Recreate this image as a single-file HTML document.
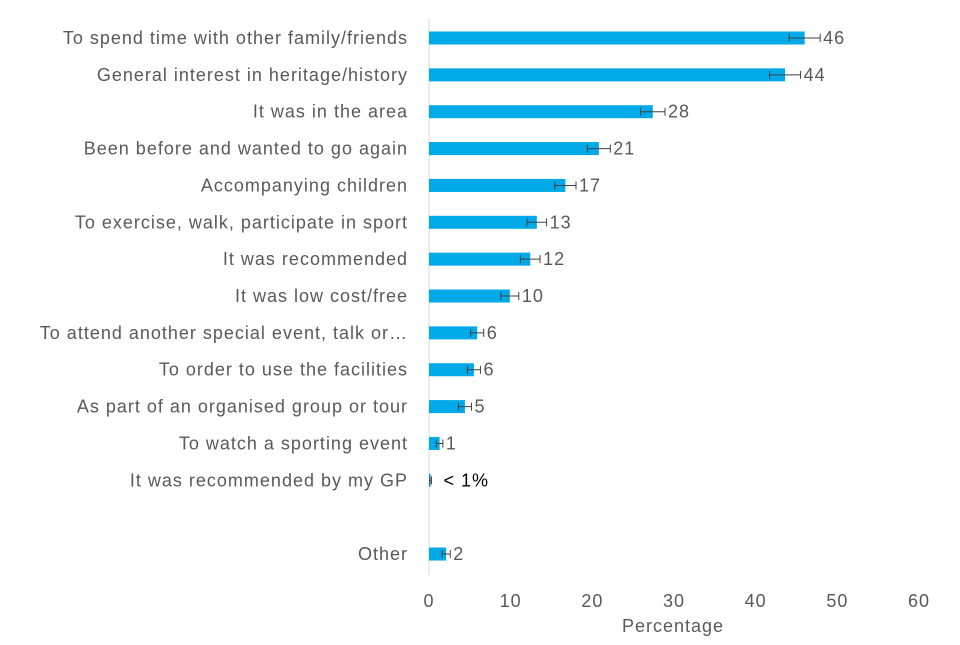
<!DOCTYPE html>
<html><head><meta charset="utf-8"><style>
body{margin:0;background:#fff}
svg text{font-family:"Liberation Sans",Arial,sans-serif;fill:#595959;letter-spacing:1px}
</style></head><body>
<svg id="chart" width="960" height="640"></svg>
<script>
const categories=["To spend time with other family/friends","General interest in heritage/history","It was in the area","Been before and wanted to go again","Accompanying children","To exercise, walk, participate in sport","It was recommended","It was low cost/free","To attend another special event, talk or…","To order to use the facilities","As part of an organised group or tour","To watch a sporting event","It was recommended by my GP","","Other"];
const values=[46,43.6,27.4,20.8,16.7,13.2,12.4,9.9,5.9,5.5,4.4,1.3,0.2,null,2.1];
const errors=[1.9,1.9,1.5,1.4,1.3,1.2,1.2,1.1,0.8,0.8,0.8,0.4,0.1,null,0.5];
const valueLabels=["46","44","28","21","17","13","12","10","6","6","5","1","< 1%","","2"];
const xTicks=[0,10,20,30,40,50,60];
const NS="http://www.w3.org/2000/svg";
const svg=document.getElementById('chart');
const x0=429,x1=919,xMax=60;
const xs=v=>x0+v/xMax*(x1-x0);
const ys=i=>38+i*36.86;
function mk(t,a,txt){const e=document.createElementNS(NS,t);for(const k in a)e.setAttribute(k,a[k]);if(txt!==undefined)e.textContent=txt;svg.appendChild(e);return e;}
const ax=mk('line',{x1:x0,x2:x0,y1:18,y2:575,stroke:'#d9d9d9','stroke-width':1});


categories.forEach((c,i)=>{
  const y=ys(i);
  if(c){const t=mk('text',{x:408,y:y+6,'text-anchor':'end','font-size':18},c);
  
  }
  const v=values[i];if(v===null)return;
  const b=mk('rect',{x:x0,y:y-6.5,width:xs(v)-x0,height:13,fill:'#00a9e8'});
  
  
  const e=errors[i],l=xs(v-e),r=xs(v+e);
  const eb=mk('path',{d:`M${l} ${y}H${r}M${l} ${y-4}V${y+4}M${r} ${y-4}V${y+4}`,stroke:'#404040','stroke-width':1,fill:'none'});
  
  
  const vl=mk('text',{x:r+(v<1?12:3),y:y+6,'font-size':18,style:v<1?'fill:#000':''},valueLabels[i]);
  
  
});
xTicks.forEach(t=>{const e=mk('text',{x:xs(t),y:607,'text-anchor':'middle','font-size':18},t);
  
  });
const xt=mk('text',{x:673,y:632,'text-anchor':'middle','font-size':18},'Percentage');


</script>
</body></html>
